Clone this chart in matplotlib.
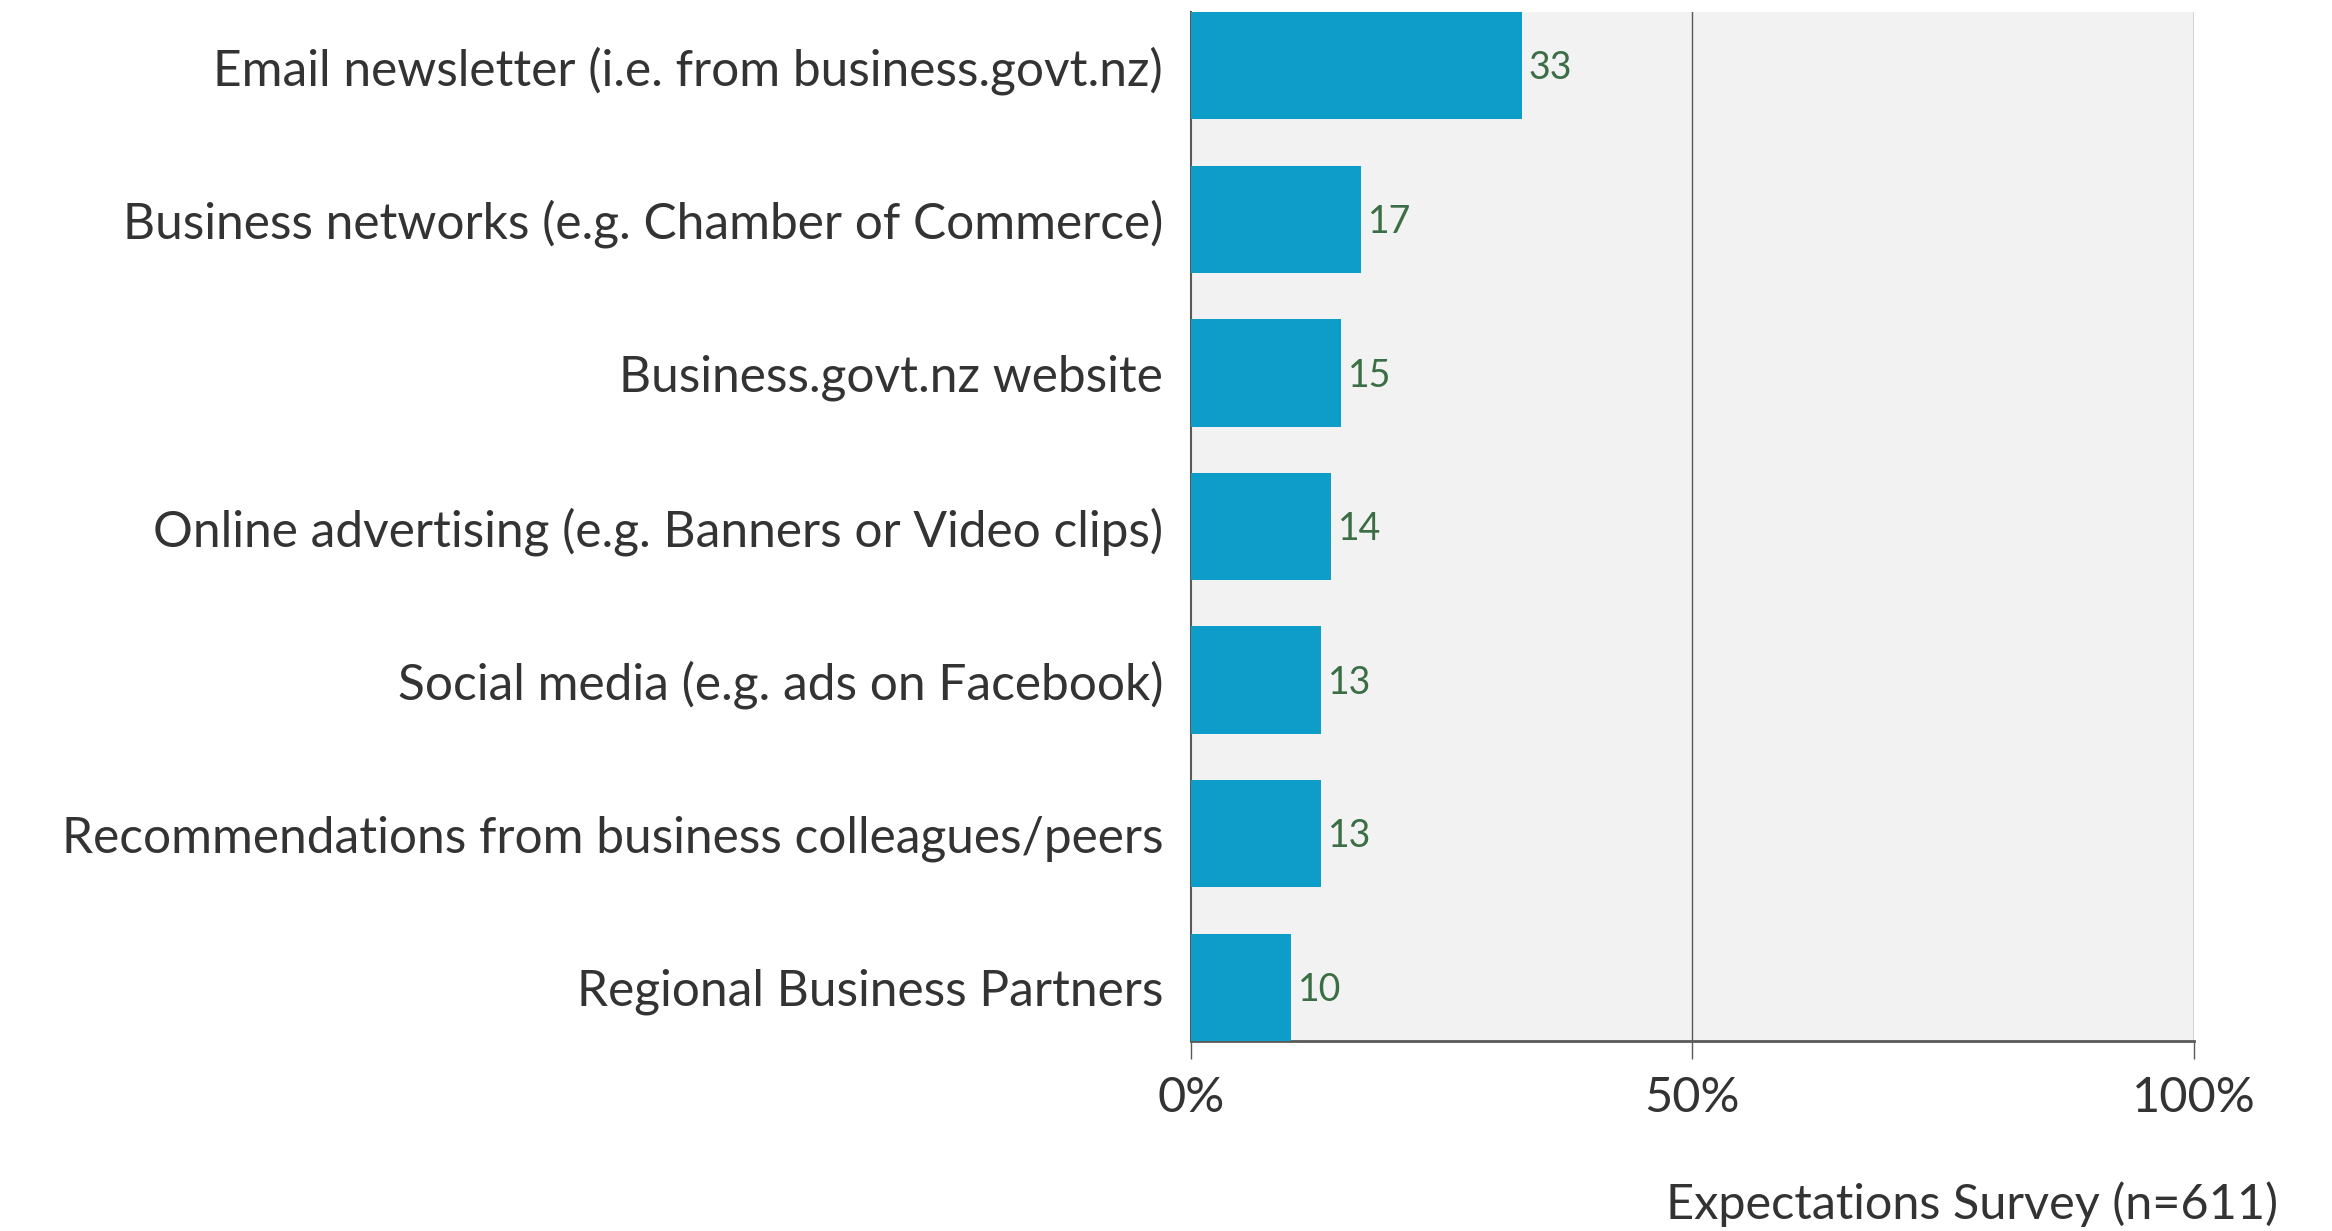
import matplotlib
matplotlib.use("Agg")
import matplotlib.pyplot as plt
import numpy as np

plt.rcParams['font.family'] = ['Lato', 'DejaVu Sans']

channels = [
    "Email newsletter (i.e. from business.govt.nz)",
    "Business networks (e.g. Chamber of Commerce)",
    "Business.govt.nz website",
    "Online advertising (e.g. Banners or Video clips)",
    "Social media (e.g. ads on Facebook)",
    "Recommendations from business colleagues/peers",
    "Regional Business Partners",
]
percent = [33, 17, 15, 14, 13, 13, 10]
x_ticks = [0, 50, 100]
x_tick_labels = ["0%", "50%", "100%"]
source_note = "Expectations Survey (n=611)"

BAR_COLOR = "#0e9cc8"
BG_COLOR = "#f2f2f2"
TEXT_COLOR = "#333333"
VALUE_COLOR = "#3b6e45"
LINE_COLOR = "#595959"


def draw_chart():
    fig = plt.figure(figsize=(23.32, 12.31), dpi=100)
    ax = fig.add_axes([0.5107, 0.1543, 0.4301, 0.836])
    ax.set_facecolor(BG_COLOR)

    y = np.arange(len(channels))
    bars = ax.barh(y, percent, height=0.7, color=BAR_COLOR, zorder=3)
    ax.set_ylim(len(channels) - 0.65, -0.35)
    ax.set_xlim(0, 100)

    ax.set_yticks(y, channels)
    ax.tick_params(axis="y", length=0, pad=20, labelsize=35.7, labelcolor=TEXT_COLOR)
    ax.set_xticks(x_ticks, x_tick_labels)
    ax.tick_params(axis="x", length=13, width=1, color=LINE_COLOR, pad=12,
                   labelsize=35, labelcolor=TEXT_COLOR)

    # value labels sit just right of each bar, nudged down a touch
    for bar, v in zip(bars, percent):
        ax.annotate(str(v), (bar.get_width(), bar.get_y() + bar.get_height() / 2),
                    xytext=(5, -2), textcoords="offset points",
                    ha="left", va="center", fontsize=27, color=VALUE_COLOR)

    for gx in x_ticks[1:]:
        ax.axvline(gx, color=LINE_COLOR, linewidth=1, zorder=1)

    for side in ["top", "right"]:
        ax.spines[side].set_visible(False)
    ax.spines["left"].set_color(LINE_COLOR)
    ax.spines["left"].set_linewidth(1.5)
    ax.spines["bottom"].set_color(LINE_COLOR)
    ax.spines["bottom"].set_linewidth(2)

    fig.text(0.9768, 0.022, source_note, ha="right", va="center",
             fontsize=35, color=TEXT_COLOR)

    fig.savefig("out.png", dpi=100, facecolor="white")


if __name__ == "__main__":
    draw_chart()
